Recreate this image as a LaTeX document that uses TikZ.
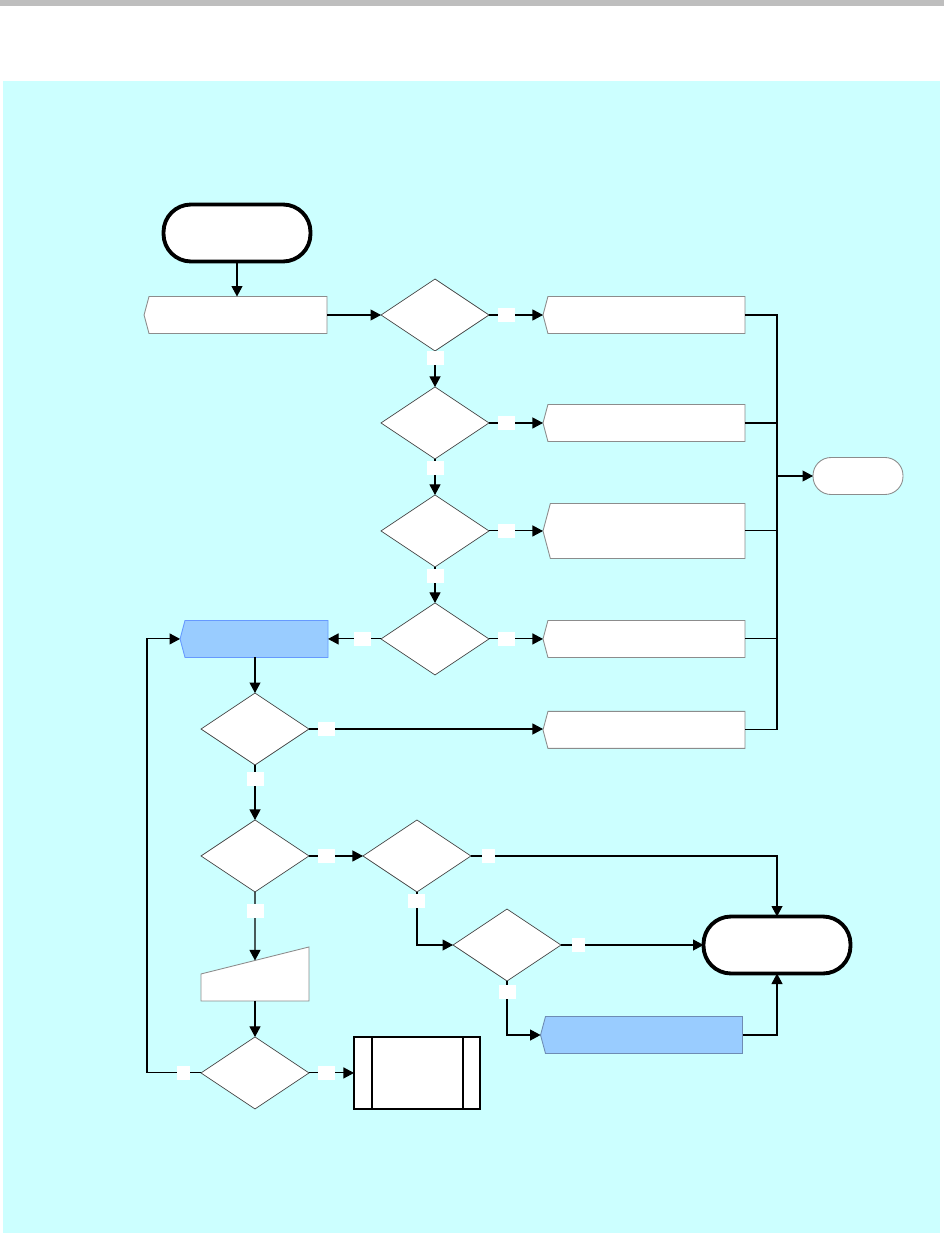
\documentclass[tikz,border=0pt]{standalone}
\usepackage{tikz}
\usetikzlibrary{arrows.meta, positioning, calc, shapes.geometric, shapes.symbols}
\definecolor{bgcyan}{RGB}{204,255,255}
\definecolor{bargray}{RGB}{190,190,190}
\definecolor{lightblue}{RGB}{153,204,255}
\definecolor{cblue}{RGB}{102,153,255}
\definecolor{cslate}{RGB}{110,140,180}
\definecolor{cgray}{RGB}{140,140,140}
\definecolor{cdark}{RGB}{70,70,70}

\begin{document}
\begin{tikzpicture}[
    x=0.02cm, y=-0.02cm,
    >={Triangle[length=0.21cm, width=0.22cm]},
    line width=0.6pt,
    every node/.style={outer sep=0pt},
    term/.style={draw, fill=white, rounded corners=0.55cm, line width=2.2pt, minimum width=2.94cm, minimum height=1.14cm, inner sep=0pt},
    stopbox/.style={draw=cgray, fill=white, rounded corners=0.36cm, line width=0.5pt, minimum width=1.8cm, minimum height=0.74cm, inner sep=0pt},
    panel/.style={signal, signal to=west, signal pointer angle=150, draw=cgray, fill=white, line width=0.5pt, minimum width=4.04cm, minimum height=0.74cm, inner sep=0pt},
    decision/.style={diamond, draw=cdark, fill=white, line width=0.4pt, minimum width=2.16cm, minimum height=1.44cm, inner sep=0pt},
    proc/.style={draw, fill=white, line width=0.7pt, minimum width=2.52cm, minimum height=1.44cm, inner sep=0pt},
    tag/.style={fill=white, minimum width=0.34cm, minimum height=0.28cm, inner sep=0pt},
    tagn/.style={tag, minimum width=0.26cm},
]
    % page
    \useasboundingbox (0,0) rectangle (944,1233);
    \fill[bgcyan] (3,81) rectangle (940,1233);
    \fill[bargray] (0,0) rectangle (944,6);

    % main column
    \node[term] (start) at (237,233) {};
    \node[decision] (d1) at (435,315) {};
    \node[panel, minimum width=3.66cm, left=1.08cm of d1] (inbox) {};
    \node[decision, below=0.72cm of d1] (d2) {};
    \node[decision, below=0.72cm of d2] (d3) {};
    \node[decision, below=0.72cm of d3] (d4) {};

    % right column
    \node[panel, right=1.08cm of d1] (r1) {};
    \node[panel, right=1.08cm of d2] (r2) {};
    \node[panel, minimum height=1.1cm, right=1.08cm of d3] (r3) {};
    \node[panel, right=1.08cm of d4] (r4) {};
    \node[panel, below=1.08cm of r4] (r5) {};
    \node[stopbox] (stop1) at (858,476) {};

    % left loop
    \node[panel, fill=lightblue, draw=cblue, minimum width=2.96cm, left=1.06cm of d4] (blue1) {};
    \node[decision] (d5) at (255,729) {};
    \node[decision, below=1.1cm of d5] (d6) {};
    \node[decision, right=1.08cm of d6] (d8) {};
    \node[decision] (d9) at (507,945) {};
    \node[term] (stop2) at (777,945) {};
    \node[panel, fill=lightblue, draw=cslate] (blue2) at (644,1035) {};

    % manual input
    \node[minimum width=2.16cm, minimum height=1.08cm, inner sep=0pt, below=1.1cm of d6] (minput) {};
    \draw[draw=cgray, fill=white, line width=0.5pt] (minput.south west) -- (minput.south east) -- (minput.north east) -- (minput.west) -- cycle;
    \coordinate (mtop) at ($(minput.north)!0.5!(minput.center)$);
    \node[decision, below=0.72cm of minput] (d7) {};
    \node[proc, right=0.9cm of d7] (proc) {};
    \draw[line width=0.7pt] ([xshift=0.36cm]proc.north west) -- ([xshift=0.36cm]proc.south west);
    \draw[line width=0.7pt] ([xshift=-0.34cm]proc.north east) -- ([xshift=-0.34cm]proc.south east);

    % connectors
    \draw[->] (start) -- (inbox.north -| start);
    \draw[->] (inbox) -- (d1);
    \draw[->] (d1) -- (d2);
    \draw[->] (d2) -- (d3);
    \draw[->] (d3) -- (d4);
    \foreach \a/\b in {d1/r1, d2/r2, d3/r3, d4/r4}
        \draw[->] (\a) -- (\b);
    \coordinate (bus) at (777,315);
    \draw (r1.east) -- (bus) |- (r5.east);
    \foreach \n in {r2, r3, r4}
        \draw (\n.east) -- (\n.east -| bus);
    \draw[->] (stop1.west -| bus) -- (stop1);

    \draw[->] (d4) -- (blue1);
    \draw[->] (blue1.south -| d5) -- (d5);
    \draw[->] (d5.east) -- (d5.east -| r5.west);
    \draw[->] (d5) -- (d6);
    \draw[->] (d6) -- (d8);
    \draw[->] (d8.east) -| (stop2.north);
    \draw[->] (d8.south) |- (d9.west);
    \draw[->] (d9) -- (stop2);
    \draw[->] (d9.south) |- (blue2.west);
    \draw[->] (blue2.east) -| (stop2.south);
    \draw[->] (d6) -- (mtop);
    \draw[->] (minput) -- (d7);
    \draw[->] (d7) -- (proc);
    \draw[->] (d7.west) -- ++(-1.08cm,0) |- (blue1.west);

    % branch tags
    \node[tag, right=0.18cm of d1] (y1) {};
    \node[tag, right=0.18cm of d2] (y2) {};
    \node[tag, right=0.18cm of d3] (y3) {};
    \node[tag, right=0.18cm of d4] (y4) {};
    \node[tag, below=0cm of d1] (n1) {};
    \node[tag, below=0.04cm of d2] (n2) {};
    \node[tag, below=0.04cm of d3] (n3) {};
    \node[tag, left=0.2cm of d4] (n4) {};
    \node[tag, right=0.18cm of d5] (y5) {};
    \node[tag, below=0.14cm of d5] (n5) {};
    \node[tag, right=0.18cm of d6] (y6) {};
    \node[tag, below=0.24cm of d6] (n6) {};
    \node[tagn, right=0.22cm of d8] (y8) {};
    \node[tag, below=0.04cm of d8] (n8) {};
    \node[tagn, right=0.22cm of d9] (y9) {};
    \node[tag, below=0.08cm of d9] (n9) {};
    \node[tagn, left=0.22cm of d7] (n7) {};
    \node[tag, right=0.18cm of d7] (y7) {};
\end{tikzpicture}
\end{document}
